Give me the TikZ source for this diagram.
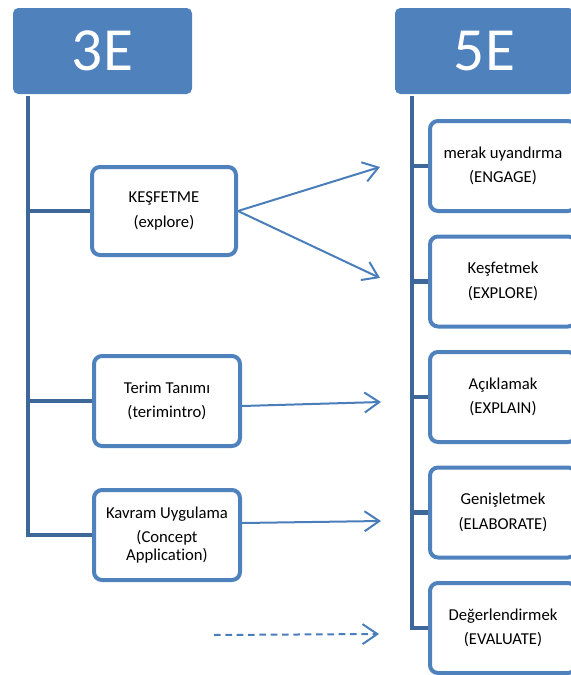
\documentclass[tikz,border=0pt]{standalone}
\usepackage{fontspec}
\setmainfont{Carlito}[Ligatures=NoCommon]
\usetikzlibrary{positioning,arrows.meta}
\definecolor{boxblue}{RGB}{79,129,189}
\definecolor{trunkblue}{RGB}{61,104,153}
\definecolor{arrowblue}{RGB}{74,126,187}
\tikzset{
  head/.style={fill=boxblue,rounded corners=4pt,minimum width=134.25pt,minimum height=64.5pt,
    text=white,font=\fontsize{46}{46}\selectfont,inner sep=0pt},
  item/.style={draw=boxblue,line width=3pt,fill=white,rounded corners=6pt,align=center,
    minimum width=109.5pt,minimum height=67.5pt,inner sep=0pt,font=\fontsize{12.5}{13.5}\selectfont},
  trunk/.style={draw=trunkblue,line width=3.2pt},
  flow/.style={draw=arrowblue,line width=1.5pt,-{Straight Barb[length=11pt,width=15pt]}}
}
\begin{document}
\begin{tikzpicture}[x=0.75pt,y=-0.75pt]
\useasboundingbox (0,0) rectangle (571,675);
\clip (0,0) rectangle (571,675);
% headers
\node[head] (3E) at (102.5,51) {3E};
\node[head] (5E) at (484.5,51) {5E};
\coordinate (t3) at (28,96);
\coordinate (t5) at (412,96);
% 3E steps
\draw[trunk] (t3) |- (167,535);
\draw[trunk] (28,211) -- (164,211);
\draw[trunk] (28,401) -- (167,401);
\node[item,minimum width=108pt,minimum height=66pt] (kesfet) at (164,211) {KEŞFETME\\[5pt](explore)};
\node[item] (terim) at (167,401) {Terim Tanımı\\[5pt](terimintro)};
\node[item] (kavram) at (167,535) {Kavram Uygulama\\[4.5pt](Concept\\Application)};
% 5E steps
\draw[trunk] (t5) |- (503,628);
\foreach \t/\s[count=\i from 0] in {
  merak uyandırma/ENGAGE,
  Keşfetmek/EXPLORE,
  Açıklamak/EXPLAIN,
  Genişletmek/ELABORATE,
  Değerlendirmek/EVALUATE%
}{
\draw[trunk] (412,{166+115.5*\i}) -- (503,{166+115.5*\i});
\node[item] (e\i) at (503,{166+115.5*\i}) {\t\\[5pt](\s)};
}
% arrows
\coordinate (a1) at (380,167);
\coordinate (a2) at (380,278);
\coordinate (a3) at (381,402);
\coordinate (a4) at (381,521);
\coordinate (d0) at (214,635);
\coordinate (d1) at (379,634);
\draw[flow] (kesfet.east) -- (a1);
\draw[flow] (kesfet.east) -- (a2);
\draw[flow] ([yshift=-3.75pt]terim.east) -- (a3);
\draw[flow] ([yshift=9pt]kavram.east) -- (a4);
\draw[flow,dash pattern=on 5pt off 3.5pt] (d0) -- (d1);
\end{tikzpicture}
\end{document}
